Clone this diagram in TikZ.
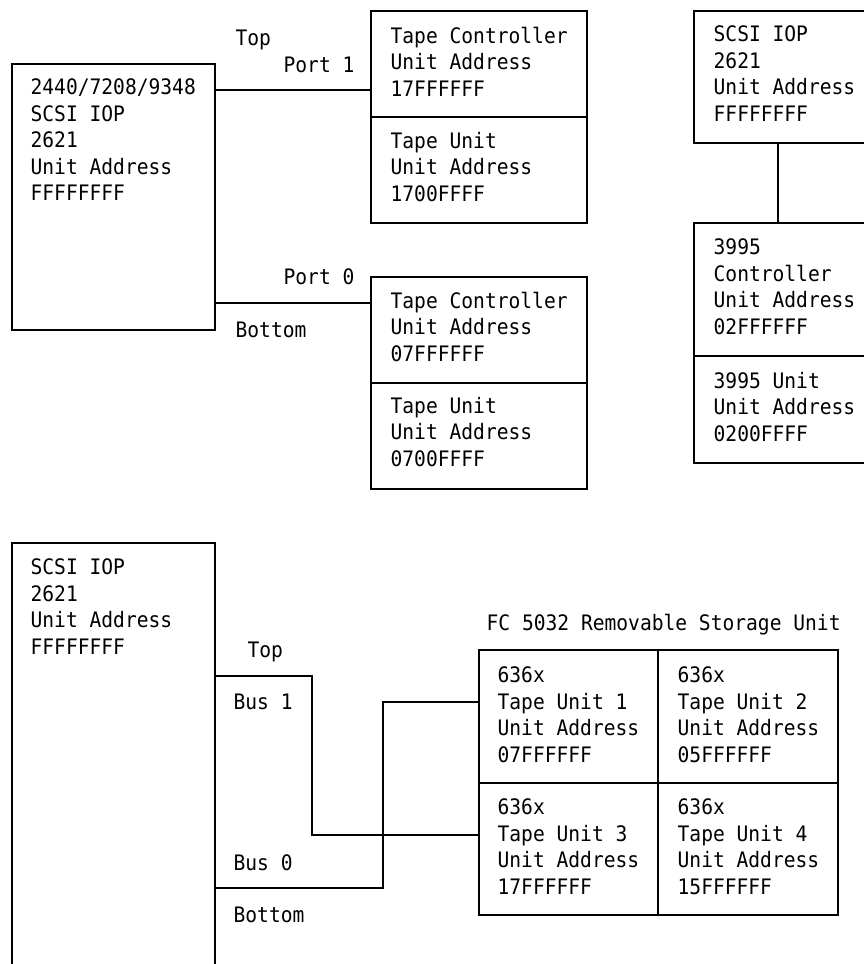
\documentclass[tikz,border=0pt]{standalone}
\usepackage{fontspec}
\setmonofont[FakeStretch=0.92]{DejaVu Sans Mono}
\usetikzlibrary{calc}

\begin{document}
\begin{tikzpicture}[x=1pt,y=-1pt,line width=1.3pt,
  box/.style={draw,anchor=north west,inner sep=0pt,outer sep=0pt},
  txt/.style={anchor=north west,yshift=18.55pt,align=left,inner sep=0pt,
    execute at begin node=\strut,font=\ttfamily\fontsize{21.3}{26.5}\selectfont}]
  \useasboundingbox (0,0) rectangle (864,964);
  % top left: IOP with two tape controllers
  \node[box,minimum width=203pt,minimum height=266pt] (iopA) at (12,64) {};
  \node[box,minimum width=216pt,minimum height=106pt] (tcA) at (371,11) {};
  \node[box,minimum width=216pt,minimum height=106pt] (tuA) at (371,117) {};
  \node[box,minimum width=216pt,minimum height=106pt] (tcB) at (371,277) {};
  \node[box,minimum width=216pt,minimum height=106pt] (tuB) at (371,383) {};
  \node[txt] (iopAtxt) at (30,97) {2440/7208/9348\\SCSI IOP\\2621\\Unit Address\\FFFFFFFF};
  \node[txt] (tcAtxt) at (390,45) {Tape Controller\\Unit Address\\17FFFFFF};
  \node[txt] (tuAtxt) at (390,150) {Tape Unit\\Unit Address\\1700FFFF};
  \node[txt] (tcBtxt) at (390,310) {Tape Controller\\Unit Address\\07FFFFFF};
  \node[txt] (tuBtxt) at (390,415) {Tape Unit\\Unit Address\\0700FFFF};
  \node[txt] (topA) at (235,45) {Top};
  \node[txt] (port1) at (283,72) {Port 1};
  \node[txt] (port0) at (283,284) {Port 0};
  \node[txt] (bottomA) at (235,337) {Bottom};
  \draw ([yshift=-26pt]iopA.north east) -- ([yshift=-26pt]tcA.north west |- iopA.north east);
  \draw ([yshift=-239pt]iopA.north east) -- ([yshift=-26pt]tcB.north west);
  % top right: IOP with 3995
  \node[box,minimum width=186pt,minimum height=132pt] (iopC) at (694,11) {};
  \node[box,minimum width=186pt,minimum height=133pt] (ctlC) at (694,223) {};
  \node[box,minimum width=186pt,minimum height=107pt] (unitC) at (694,356) {};
  \node[txt] (iopCtxt) at (713,44) {SCSI IOP\\2621\\Unit Address\\FFFFFFFF};
  \node[txt] (ctlCtxt) at (713,257) {3995\\Controller\\Unit Address\\02FFFFFF};
  \node[txt] (unitCtxt) at (713,390) {3995 Unit\\Unit Address\\0200FFFF};
  \draw ([xshift=84pt]iopC.south west) -- ([xshift=84pt]ctlC.north west);
  % bottom: IOP with FC 5032
  \node[box,minimum width=203pt,minimum height=440pt] (iopD) at (12,543) {};
  \node[box,minimum width=179pt,minimum height=133pt] (tu1) at (479,650) {};
  \node[box,minimum width=180pt,minimum height=133pt] (tu2) at (658,650) {};
  \node[box,minimum width=179pt,minimum height=132pt] (tu3) at (479,783) {};
  \node[box,minimum width=180pt,minimum height=132pt] (tu4) at (658,783) {};
  \node[txt] (iopDtxt) at (30,577) {SCSI IOP\\2621\\Unit Address\\FFFFFFFF};
  \node[txt] (fclabel) at (486,630) {FC 5032 Removable Storage Unit};
  \node[txt] (tu1txt) at (497,685) {636x\\Tape Unit 1\\Unit Address\\07FFFFFF};
  \node[txt] (tu2txt) at (677,685) {636x\\Tape Unit 2\\Unit Address\\05FFFFFF};
  \node[txt] (tu3txt) at (497,817) {636x\\Tape Unit 3\\Unit Address\\17FFFFFF};
  \node[txt] (tu4txt) at (677,817) {636x\\Tape Unit 4\\Unit Address\\15FFFFFF};
  \node[txt] (topD) at (247,657) {Top};
  \node[txt] (bus1) at (233,709) {Bus 1};
  \node[txt] (bus0) at (233,870) {Bus 0};
  \node[txt] (bottomD) at (233,922) {Bottom};
  \draw ([yshift=-133pt]iopD.north east) -| (312,835) -- ([yshift=-52pt]tu3.north west);
  \draw ([yshift=-345pt]iopD.north east) -| (383,702) -- ([yshift=-52pt]tu1.north west);
\end{tikzpicture}
\end{document}
